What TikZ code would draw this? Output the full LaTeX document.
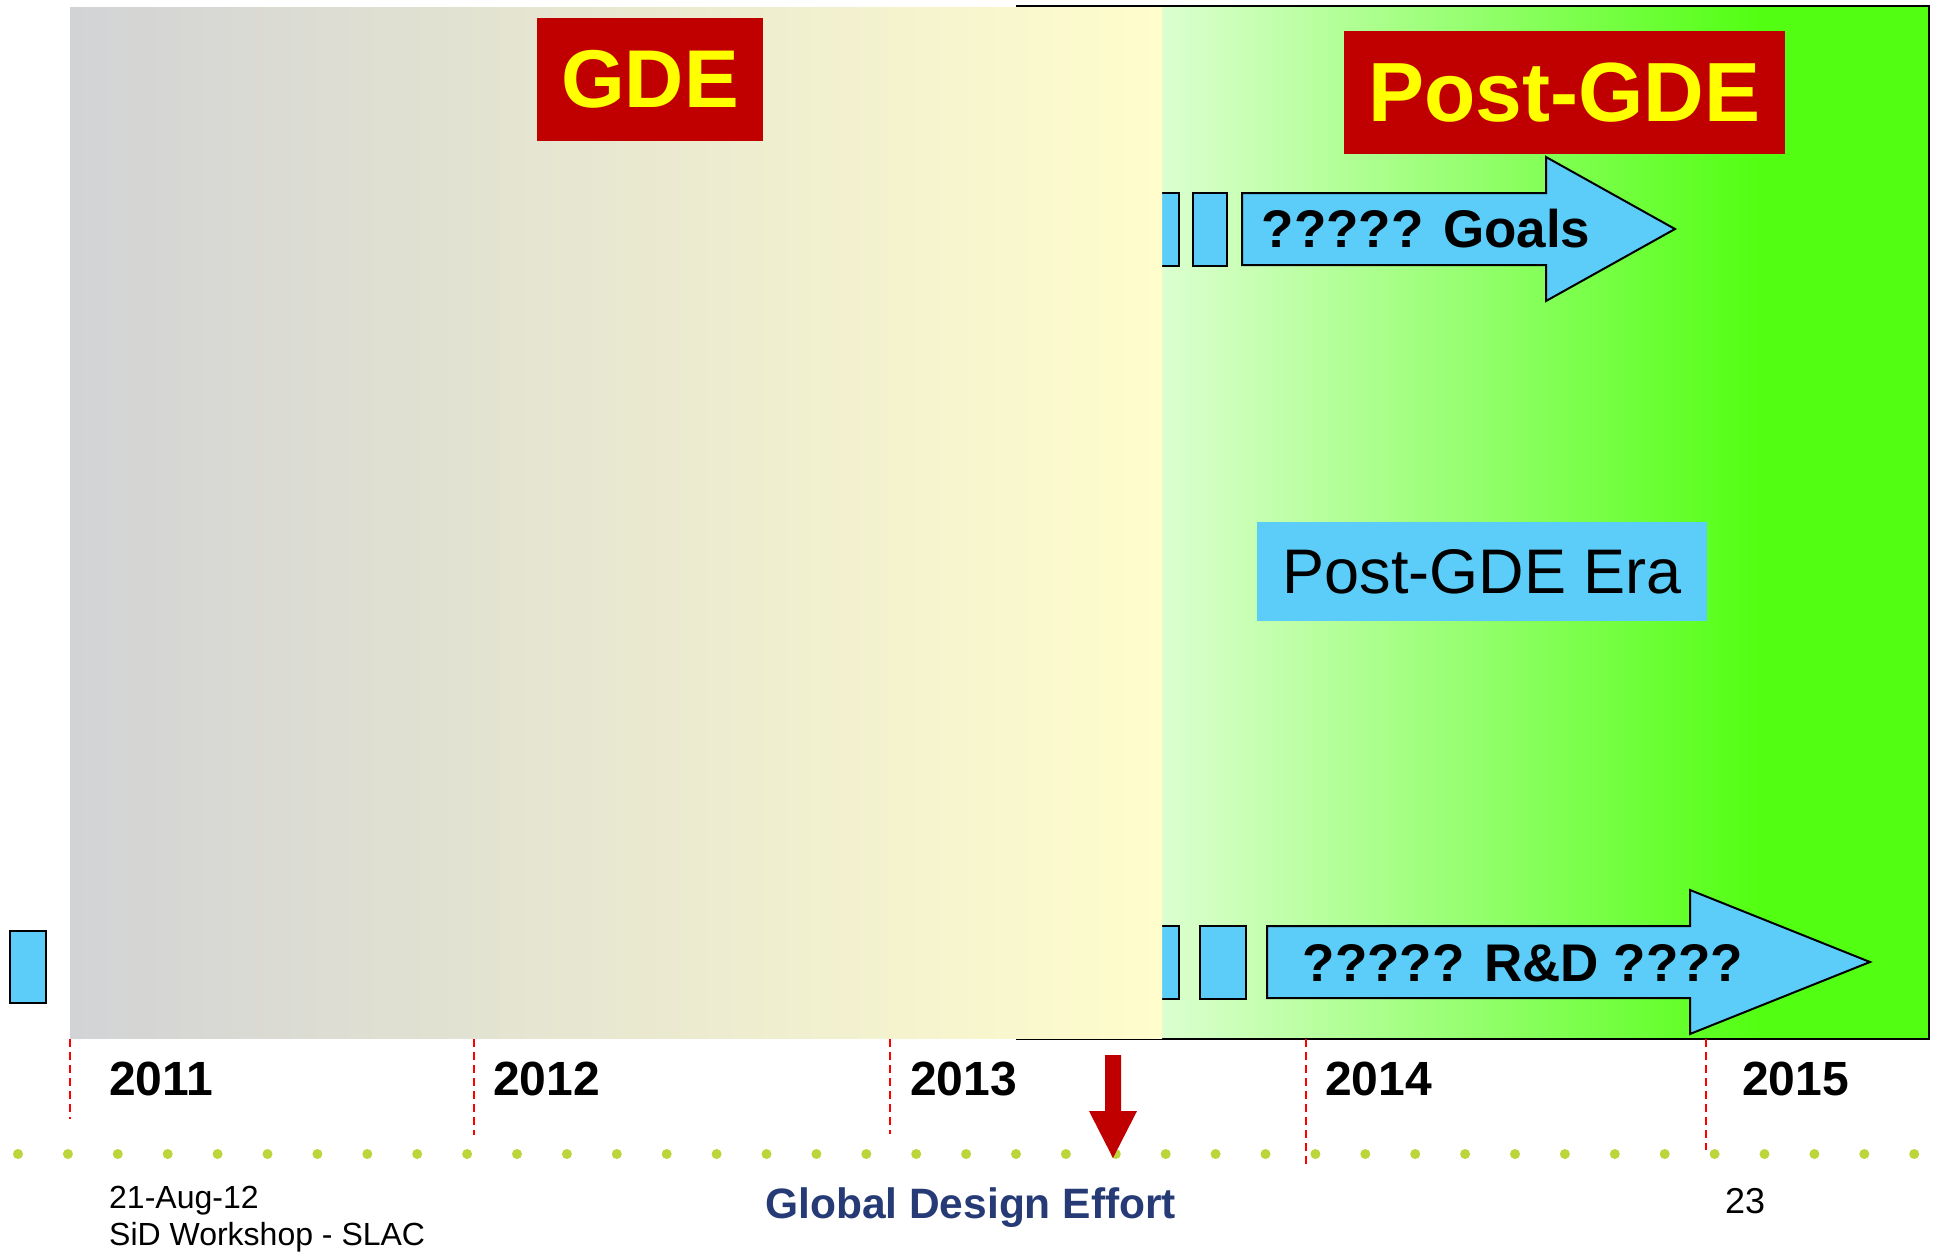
\documentclass[tikz,border=0pt]{standalone}
\usepackage{fontspec}
\setmainfont{Liberation Sans}
\definecolor{gdered}{HTML}{C00000}
\definecolor{boxblue}{HTML}{5BCDF8}
\definecolor{grayL}{HTML}{D2D3D5}
\definecolor{yelR}{HTML}{FFFDCC}
\definecolor{grnPale}{HTML}{DCFFD0}
\definecolor{grnBright}{HTML}{52FF12}
\definecolor{dotgreen}{HTML}{BCD53A}
\definecolor{navy}{HTML}{263A75}
\definecolor{gdeyellow}{HTML}{FFFF00}
\newcommand\yrfont{\fontsize{48}{56}\selectfont\bfseries}
\newcommand\arrfont{\fontsize{53}{62}\selectfont\bfseries}
\tikzset{
  redlabel/.style={fill=gdered, text=gdeyellow, inner sep=0pt, font=\fontsize{82}{96}\selectfont\bfseries},
  bluebox/.style={fill=boxblue, draw=black, line width=2.5pt},
  yrline/.style={draw=red, line width=2pt, dash pattern=on 8pt off 5pt},
  yrlabel/.style={anchor=base west, inner sep=0pt, font=\yrfont},
  arrlabel/.style={anchor=base, inner sep=0pt, font=\arrfont},
  footlabel/.style={anchor=base west, inner sep=0pt, font=\fontsize{32}{37}\selectfont}
}
\begin{document}
\begin{tikzpicture}[x=1pt,y=-1pt]
\useasboundingbox (0,0) rectangle (1939,1251);
\fill[white] (0,0) rectangle (1939,1251);
% post-GDE green area
\fill[grnBright] (1017,6) rectangle (1929,1039);
\fill[grnPale] (1017,6) rectangle (1162,1039);
\shade[left color=grnPale, right color=grnBright] (1162,6) rectangle (1760,1039);
\draw[line width=2.5pt] (1017,6) rectangle (1929,1039);
% small blue boxes (partly hidden)
\draw[bluebox] (1140,193) rectangle (1179,266);
\draw[bluebox] (1193,193) rectangle (1227,266);
\draw[bluebox] (1140,926) rectangle (1179,999);
\draw[bluebox] (1200,926) rectangle (1246,999);
\draw[bluebox] (10,931) rectangle (46,1003);
% GDE era gradient
\shade[left color=grayL, right color=yelR] (70,7) rectangle (1162,1038);
% arrows
\draw[bluebox, line width=2pt] (1242,193) -- (1546,193) -- (1546,157) -- (1675,229) -- (1546,301) -- (1546,265) -- (1242,265) -- cycle;
\draw[bluebox, line width=2pt] (1267,926) -- (1690,926) -- (1690,890) -- (1870,962) -- (1690,1034) -- (1690,998) -- (1267,998) -- cycle;
\node[arrlabel] (goals) at (1426,247) {????? Goals};
\node[arrlabel] (rnd) at (1523,981) {????? R\&D ????};
% labels
\node[redlabel, minimum width=226pt, minimum height=123pt] (gde) at (650,79.5) {GDE};
\node[redlabel, minimum width=441pt, minimum height=123pt, font=\fontsize{84}{98}\selectfont\bfseries] (postgde) at (1564.5,92.5) {Post-GDE};
\node[fill=boxblue, inner sep=0pt, minimum width=450pt, minimum height=99pt, font=\fontsize{63}{74}\selectfont] (era) at (1482,571.5) {Post-GDE Era};
% year lines
\draw[yrline] (70,1039) -- (70,1119);
\draw[yrline] (474,1039) -- (474,1135);
\draw[yrline] (890,1039) -- (890,1134);
\draw[yrline] (1306,1039) -- (1306,1167);
\draw[yrline] (1706,1039) -- (1706,1150);
\node[yrlabel] (y11) at (109,1095) {2011};
\node[yrlabel] (y12) at (493,1095) {2012};
\node[yrlabel] (y13) at (910,1095) {2013};
\node[yrlabel] (y14) at (1325,1095) {2014};
\node[yrlabel] (y15) at (1742,1095) {2015};
% dotted rule
\foreach \i in {0,...,38} \fill[dotgreen] ({18+49.9*\i},1154) circle (5pt);
% red down arrow
\fill[gdered] (1105,1055) -- (1121,1055) -- (1121,1111) -- (1137,1111) -- (1113,1158) -- (1089,1111) -- (1105,1111) -- cycle;
% footer
\node[footlabel] (date) at (109,1208) {21-Aug-12};
\node[footlabel] (venue) at (109,1245) {SiD Workshop - SLAC};
\node[anchor=base west, inner sep=0pt, text=navy, font=\fontsize{42.5}{50}\selectfont\bfseries] (gde-foot) at (765,1218) {Global Design Effort};
\node[anchor=base west, inner sep=0pt, font=\fontsize{36}{42}\selectfont] (page) at (1725,1213) {23};
\end{tikzpicture}
\end{document}
